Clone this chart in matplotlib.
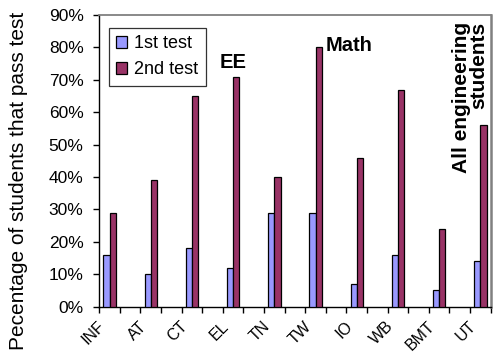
import matplotlib
matplotlib.use("Agg")
import matplotlib.pyplot as plt
from matplotlib.transforms import ScaledTranslation
import numpy as np

plt.rcParams['font.family'] = ['Liberation Sans', 'DejaVu Sans']

programs = ["INF", "AT", "CT", "EL", "TN", "TW", "IO", "WB", "BMT", "UT"]
first_test = [16, 10, 18, 12, 29, 29, 7, 16, 5, 14]
second_test = [29, 39, 65, 71, 40, 80, 46, 67, 24, 56]
yticks = [0, 10, 20, 30, 40, 50, 60, 70, 80, 90]

blue = "#9999FF"
plum = "#993366"

fig = plt.figure(figsize=(4.93, 3.52), dpi=100)
ax = fig.add_axes([0.2014, 0.1287, 0.7939, 0.8287])

# each program occupies every second slot on the category axis
slots = np.arange(len(programs)) * 2
w = 0.305
ax.bar(slots - w / 2, first_test, width=w, color=blue, edgecolor="black",
       linewidth=0.9, label="1st test", zorder=3)
ax.bar(slots + w / 2, second_test, width=w, color=plum, edgecolor="black",
       linewidth=0.9, label="2nd test", zorder=3)

n_slots = len(programs) * 2 - 1
ax.set_xlim(-0.5, n_slots - 0.5)
ax.set_ylim(0, 90)

ax.set_yticks(yticks)
ax.set_yticklabels([f"{v}%" for v in yticks], fontsize=12.5)
ax.tick_params(axis="y", direction="out", length=4.3, width=1, pad=7)

ax.set_xticks(slots)
ax.set_xticklabels(programs, rotation=45, ha="right", va="top",
                   rotation_mode="anchor", fontsize=11.5)
ax.tick_params(axis="x", which="major", length=0, pad=8.5)
for lbl in ax.get_xticklabels():
    lbl.set_transform(lbl.get_transform() +
                      ScaledTranslation(-0.12, 0, fig.dpi_scale_trans))
ax.set_xticks(np.arange(-0.5, n_slots, 1.0), minor=True)
ax.tick_params(axis="x", which="minor", direction="out", length=4, width=1)

for s in ("left", "bottom"):
    ax.spines[s].set_color("black")
    ax.spines[s].set_linewidth(1)
for s in ("top", "right"):
    ax.spines[s].set_color("#808080")
ax.spines["top"].set_linewidth(1.3)
ax.spines["right"].set_linewidth(1.8)

ax.set_ylabel("Pecentage of students that pass test", fontsize=15)
ax.yaxis.set_label_coords(-0.182, 0.433)

leg = ax.legend(loc="upper left", bbox_to_anchor=(0.025, 0.955), fontsize=13,
                frameon=True, fancybox=False, edgecolor="black",
                handlelength=0.6, handleheight=0.6, handletextpad=0.4,
                borderpad=0.4, labelspacing=0.5, borderaxespad=0.0)
leg.get_frame().set_linewidth(0.9)

ax.text(5.35, 73.5, "EE", fontsize=14.5, fontweight="bold",
        ha="left", va="baseline")
ax.text(10.5, 78.9, "Math", fontsize=14.5, fontweight="bold",
        ha="left", va="baseline")
ax.text(16.6, 88.0, "All engineering\nstudents", fontsize=15,
        fontweight="bold", rotation=90, ha="left", va="top",
        multialignment="right", linespacing=0.95)

fig.savefig("out.png", dpi=100)
